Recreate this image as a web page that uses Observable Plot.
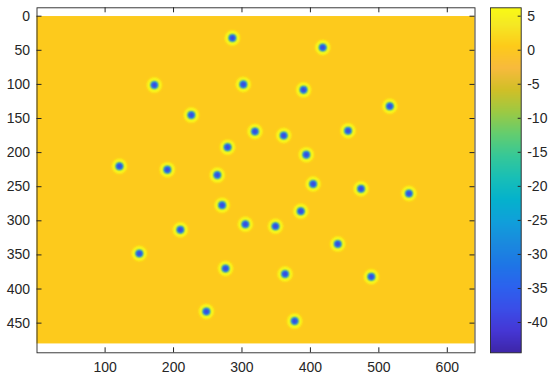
<!DOCTYPE html>
<html><head><meta charset="utf-8">
<script src="https://cdn.jsdelivr.net/npm/d3@7"></script>
<script src="https://cdn.jsdelivr.net/npm/@observablehq/plot@0.6"></script>
<style>
body{margin:0;background:#fff;}
#chart{position:relative;width:550px;height:380px;}
#chart svg{position:absolute;left:0;top:0;}
</style></head><body><div id="chart"></div>
<script>
// spot centres (image pixel coordinates)
const spotX = [286, 172, 302, 226, 319, 279, 121, 191, 264, 418, 390, 516, 361, 455, 394, 404, 474, 544, 271, 210, 305, 349, 150, 276, 248, 386, 440, 363, 489, 377];
const spotY = [32, 101, 100, 145, 169, 192, 220, 225, 233, 46, 108, 132, 175, 168, 203, 246, 253, 260, 277, 313, 305, 308, 348, 370, 433, 286, 334, 378, 382, 447];
// field values
const backgroundValue = 0.4;
const haloValue = 6.2;
const ringValue = -24;
const coreValue = -34;
const centreValue = -40;
// image extent (pixels)
const imageX = [0.5, 640.5];
const imageY = [0.5, 480.5];
// axes
const xDomain = [0.5, 640.5];
const yDomain = [-12.3, 493.5];
const xTicks = [100, 200, 300, 400, 500, 600];
const yTicks = [0, 50, 100, 150, 200, 250, 300, 350, 400, 450];
const cbarTicks = [-40, -35, -30, -25, -20, -15, -10, -5, 0, 5];
const colorDomain = [-44.45, 6.23];
// parula colormap stops
const parulaT = [0, 4, 8, 12, 16, 20, 24, 28, 32, 36, 40, 44, 48, 52, 56, 60, 63].map(i => i / 63);
const parulaC = ["#3e26a8", "#4537d5", "#3a4ee8", "#2c62ee", "#1e76e6", "#1a8ade", "#10a0da", "#05b2cc", "#19bfb6", "#37c897", "#64cd6f", "#9dc943", "#d1bf27", "#f8ba3d", "#fdcb1a", "#f5e924", "#f9fb15"];

const parulaScale = d3.scaleLinear().domain(parulaT).range(parulaC).interpolate(d3.interpolateRgb).clamp(true);
const parula = t => parulaScale(t);

const spots = spotX.map((x, i) => ({x, y: spotY[i]}));
const W = 550, H = 380;
const mL = 36.5, mR = 75.5, mT = 7.3, mB = 27.7;
const plotW = W - mL - mR, plotH = H - mT - mB;
const ink = "#262626";
const font = "'Liberation Sans', Arial, sans-serif";

const colorOpts = {type: "linear", domain: colorDomain, interpolate: parula, clamp: true};

const main = Plot.plot({
  width: W, height: H,
  marginLeft: mL, marginRight: mR, marginTop: mT, marginBottom: mB,
  style: {fontFamily: font, fontSize: "14px", color: ink, background: "transparent"},
  x: {domain: xDomain, label: null},
  y: {domain: yDomain, reverse: true, label: null},
  color: colorOpts,
  marks: [
    Plot.rect([{v: backgroundValue}], {x1: () => imageX[0], x2: () => imageX[1], y1: () => imageY[0], y2: () => imageY[1], fill: d => d.v}),
    Plot.dot(spots, {x: "x", y: "y", r: 7.5, fill: () => haloValue, className: "spot"}),
    Plot.dot(spots, {x: "x", y: "y", r: 3.8, fill: () => ringValue, className: "spot"}),
    Plot.dot(spots, {x: "x", y: "y", r: 3.0, fill: () => coreValue, className: "spot"}),
    Plot.dot(spots, {x: "x", y: "y", r: 1.9, fill: () => centreValue, className: "spot"}),
    Plot.ruleX(xTicks, {x: d => d, insetBottom: plotH - 5, stroke: ink}),
    Plot.ruleX(xTicks, {x: d => d, insetTop: plotH - 5, stroke: ink}),
    Plot.ruleY(yTicks, {y: d => d, insetRight: plotW - 5, stroke: ink}),
    Plot.ruleY(yTicks, {y: d => d, insetLeft: plotW - 5, stroke: ink}),
    Plot.frame({stroke: ink, strokeWidth: 0.9}),
    Plot.axisX(xTicks, {anchor: "bottom", tickSize: 0, tickPadding: 9, fontSize: 14, label: null, tickFormat: d => String(d)}),
    Plot.axisY(yTicks, {anchor: "left", tickSize: 0, tickPadding: 7, fontSize: 14, label: null, tickFormat: d => String(d)})
  ]
});

const cL = 490, cR = W - 520.7;
const cbar = Plot.plot({
  width: W, height: H,
  marginLeft: cL, marginRight: cR, marginTop: mT, marginBottom: mB,
  style: {fontFamily: font, fontSize: "14px", color: ink, background: "transparent"},
  x: {domain: [0, 1], axis: null},
  y: {domain: colorDomain, label: null},
  color: colorOpts,
  marks: [
    Plot.raster({fill: (x, y) => y, x1: 0, x2: 1, y1: colorDomain[0], y2: colorDomain[1], width: 1, height: 345, imageRendering: "auto"}),
    Plot.ruleY(cbarTicks, {y: d => d, insetLeft: (W - cL - cR) - 3, stroke: ink}),
    Plot.frame({stroke: ink, strokeWidth: 0.9}),
    Plot.axisY(cbarTicks, {anchor: "right", tickSize: 0, tickPadding: 6, fontSize: 14, label: null, tickFormat: d => String(d)})
  ]
});

const chart = document.getElementById("chart");
chart.appendChild(main);
chart.appendChild(cbar);

// soften the spots
const ns = "http://www.w3.org/2000/svg";
const defs = document.createElementNS(ns, "defs");
defs.innerHTML = '<filter id="soft" x="-50%" y="-50%" width="200%" height="200%"><feGaussianBlur stdDeviation="1.1"/></filter>';
main.insertBefore(defs, main.firstChild);
main.querySelectorAll(".spot").forEach(g => g.setAttribute("filter", "url(#soft)"));
</script></body></html>
